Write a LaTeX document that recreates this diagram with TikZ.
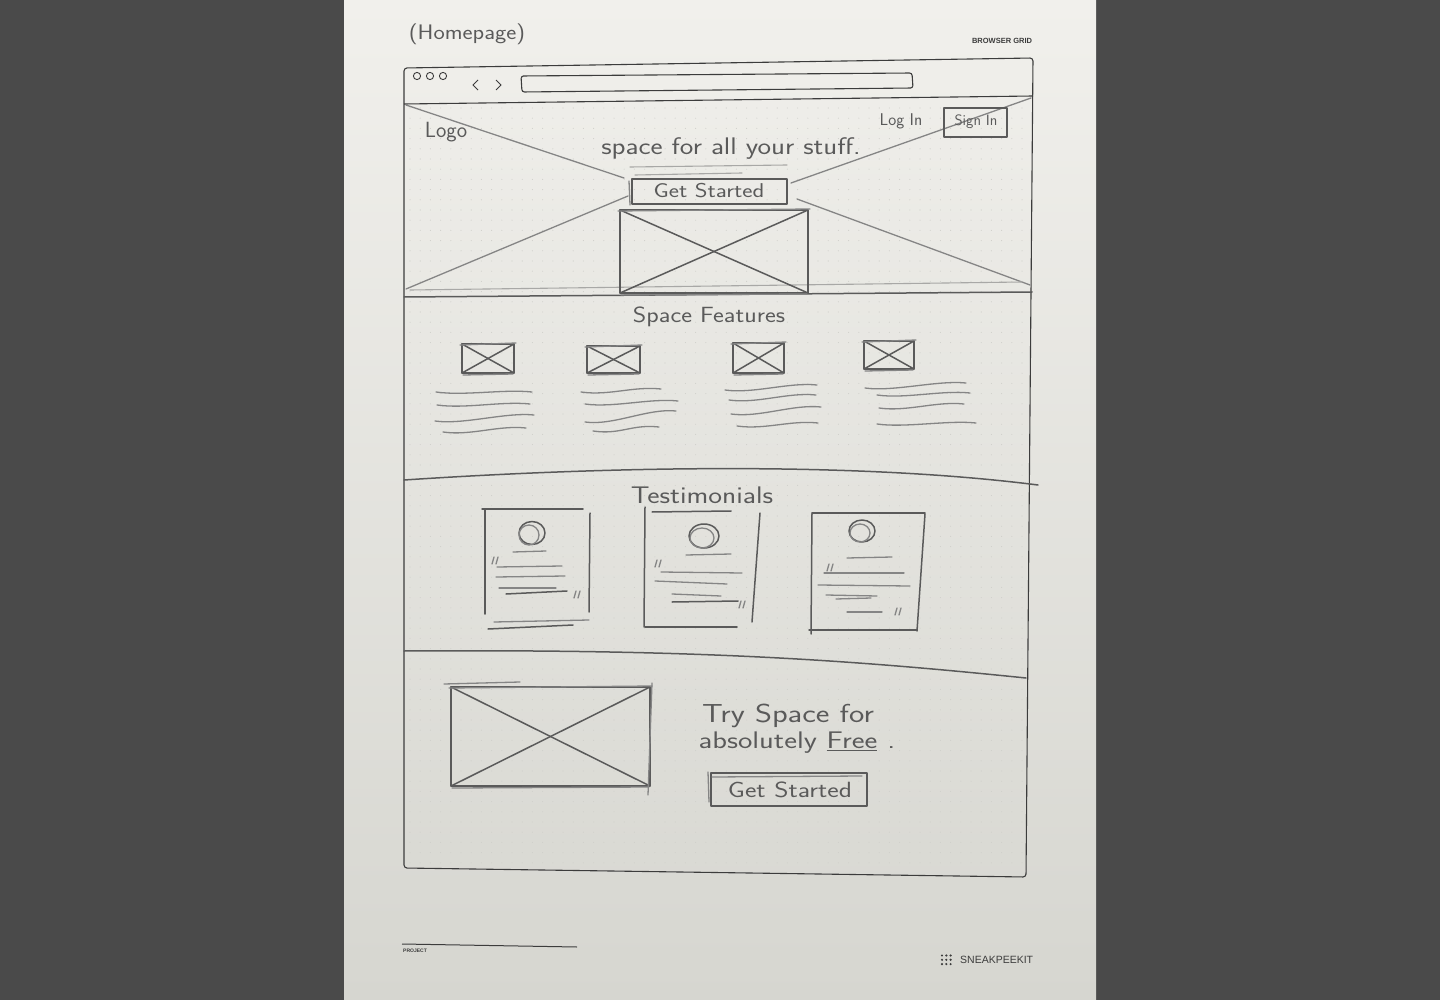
\documentclass[tikz,border=0pt]{standalone}
\usepackage{fontspec}
\newfontfamily\printfont{Liberation Sans}
\definecolor{desk}{HTML}{4A4A4A}
\definecolor{paperTop}{HTML}{F1F0EC}
\definecolor{paperBot}{HTML}{D6D6D0}
\definecolor{pencil}{HTML}{5A5A5A}
\definecolor{pencilLight}{HTML}{858585}
\definecolor{pencilFaint}{HTML}{A8A8A6}
\definecolor{ink}{HTML}{3C3C3C}
\definecolor{gridDot}{HTML}{D0D0CB}

% image placeholder: rectangle with both diagonals, plus a loose overstroke
\newcommand\sketchimg[4]{%
  \draw[pen] (#1,#2) rectangle (#3,#4);
  \draw[pen] (#1,#2) -- (#3,#4);
  \draw[pen] (#1,#4) -- (#3,#2);
  \draw[softpen] (#1-2,#2+1) -- (#3+2,#2-1);
  \draw[softpen] (#1+1,#4+2) -- (#3-1,#4+1);
}
% wavy pencil line standing for body text
\newcommand\wavy[4]{%
  \draw[softpen] (#1,#2) .. controls +(28,4) and +(-28,-3) .. (#3,#4);
}
% short closing/opening quote marks
\newcommand\quotes[2]{%
  \draw[softpen] (#1,#2) -- (#1-2,#2+7);
  \draw[softpen] (#1+4,#2) -- (#1+2,#2+7);
}
% loose handwriting: widen a line of text
\newcommand\loose[2]{\scalebox{#1}[1]{#2}}

\begin{document}
\begin{tikzpicture}[x=1pt,y=-1pt,
  pen/.style={draw=pencil, line width=1.5pt, line cap=round, line join=round},
  softpen/.style={draw=pencilLight, line width=1.3pt, line cap=round},
  faintpen/.style={draw=pencilFaint, line width=1.1pt, line cap=round},
  frame/.style={draw=ink, line width=1.1pt, line join=round},
  hand/.style={font=\sffamily\fontsize{#1}{#1}\selectfont, text=pencil, inner sep=0pt},
  printed/.style={font=\printfont\bfseries\fontsize{#1}{#1}\selectfont, text=ink, inner sep=0pt},
]
\useasboundingbox (0,0) rectangle (1440,1000);

% desk and sheet of paper
\fill[desk] (0,0) rectangle (1440,1000);
\shade[top color=paperTop, bottom color=paperBot] (344,0) rectangle (1096,1000);

% dot grid of the browser page
\foreach \i in {0,...,60} {
  \foreach \j in {0,...,74} {
    \fill[gridDot] (410+\i*10.2,108+\j*10.2) circle (0.55);
  }
}

% printed header
\node[hand=21] (title) at (467,34) {\loose{1.14}{(Homepage)}};
\node[printed=7.5] (gridlabel) at (1002,41) {BROWSER GRID};

% printed browser frame
\draw[frame, rounded corners=3pt] (404,68) -- (1033,58) -- (1026,877) -- (404,868) -- cycle;
\draw[frame] (404,104) -- (1033,96);
\foreach \k in {417,430,443} {
  \draw[ink, line width=0.9pt] (\k,76) circle (3.6);
}
\draw[ink, line width=0.9pt] (478,80) -- (473,85) -- (478,90);
\draw[ink, line width=0.9pt] (496,80) -- (501,85) -- (496,90);
\draw[frame, rounded corners=2.5pt] (521,76) -- (912,73) -- (913,88) -- (522,92) -- cycle;

% ---- hero section ----
\draw[softpen] (406,105) -- (624,178);
\draw[softpen] (1031,98) -- (791,183);
\draw[softpen] (406,289) -- (628,196);
\draw[softpen] (1030,285) -- (797,199);
\draw[pen] (404,297) -- (1032,292);
\draw[faintpen] (410,290) -- (1022,282);

\node[hand=22] (logo) at (446,132) {Logo};
\node[hand=17] (login) at (901,121) {Log In};
\draw[pen] (944,108) rectangle (1007,137);
\node[hand=15] (signin) at (976,122) {Sign In};

\node[hand=24] (headline) at (731,149) {\loose{1.2}{space for all your stuff.}};
\draw[faintpen] (630,167) -- (787,165);
\draw[faintpen] (635,175) -- (742,173);

\draw[pen] (632,179) rectangle (787,204);
\draw[softpen] (629,181) -- (630,205);
\node[hand=20] (heroBtn) at (709,191) {\loose{1.22}{Get Started}};

\sketchimg{620}{210}{808}{293}

% ---- features section ----
\node[hand=22] (features) at (709,317) {\loose{1.17}{Space Features}};

\sketchimg{462}{344}{514}{373}
\sketchimg{587}{346}{640}{373}
\sketchimg{733}{343}{784}{373}
\sketchimg{864}{341}{914}{369}

\wavy{436}{392}{532}{392}
\wavy{437}{405}{530}{404}
\wavy{435}{421}{534}{415}
\wavy{443}{432}{526}{428}

\wavy{581}{392}{661}{389}
\wavy{585}{404}{678}{401}
\wavy{585}{422}{676}{411}
\wavy{593}{431}{659}{427}

\wavy{725}{390}{817}{385}
\wavy{729}{400}{816}{395}
\wavy{731}{414}{821}{407}
\wavy{737}{426}{818}{423}

\wavy{865}{388}{966}{383}
\wavy{877}{395}{970}{393}
\wavy{879}{408}{964}{404}
\wavy{877}{424}{976}{423}

\draw[pen] (404,480) .. controls (600,467) and (850,461) .. (1038,485);

% ---- testimonials section ----
\node[hand=24] (testimonials) at (702,495) {\loose{1.22}{Testimonials}};

% card one
\draw[pen] (485,510) -- (485,614);
\draw[pen] (482,509) -- (583,509);
\draw[pen] (590,513) -- (589,612);
\draw[pen] (488,629) -- (573,625);
\draw[softpen] (494,622) -- (589,620);
\draw[pen] (532,533) ellipse (13 and 11.5);
\draw[softpen] (529,535) ellipse (10 and 10);
\draw[softpen] (513,552) -- (546,551);
\quotes{494}{557}
\draw[softpen] (497,567) -- (562,566);
\draw[softpen] (496,577) -- (565,576);
\draw[softpen] (499,588) -- (556,588);
\draw[pen] (506,594) -- (567,591);
\quotes{576}{591}

% card two
\draw[pen] (645,507) -- (644,627);
\draw[pen] (652,512) -- (731,511);
\draw[pen] (760,513) -- (752,622);
\draw[pen] (645,627) -- (737,627);
\draw[pen] (704,536) ellipse (15 and 12);
\draw[softpen] (702,538) ellipse (12 and 10);
\draw[softpen] (686,555) -- (731,554);
\quotes{657}{560}
\draw[softpen] (661,572) -- (742,573);
\draw[softpen] (655,581) -- (727,584);
\draw[softpen] (672,594) -- (721,596);
\draw[pen] (672,602) -- (738,601);
\quotes{741}{601}

% card three
\draw[pen] (812,513) -- (811,634);
\draw[pen] (812,513) -- (925,513);
\draw[pen] (925,514) -- (917,631);
\draw[pen] (809,630) -- (917,630);
\draw[pen] (862,531) ellipse (13 and 11);
\draw[softpen] (860,533) ellipse (10 and 9);
\draw[softpen] (847,558) -- (892,557);
\quotes{829}{564}
\draw[softpen] (824,573) -- (904,573);
\draw[softpen] (818,585) -- (910,586);
\draw[softpen] (826,595) -- (877,596);
\draw[softpen] (836,599) -- (871,598);
\draw[softpen] (847,612) -- (882,612);
\quotes{897}{608}

\draw[pen] (404,651) .. controls (700,649) and (850,660) .. (1026,678);

% ---- call to action section ----
\sketchimg{451}{687}{650}{786}
\draw[softpen] (444,684) -- (520,682);
\draw[softpen] (652,683) -- (648,795);

\node[hand=26] (cta1) at (788,716) {\loose{1.25}{Try Space for}};
\node[hand=24] (cta2) at (797,743) {\loose{1.27}{absolutely \underline{Free}\,\,.}};

\draw[pen] (711,773) rectangle (867,806);
\draw[softpen] (712,777) -- (862,776);
\draw[softpen] (708,772) -- (709,802);
\node[hand=22] (ctaBtn) at (790,790) {\loose{1.24}{Get Started}};

% printed footer
\draw[ink, line width=1pt] (402,944) -- (577,947);
\node[printed=5, anchor=west] (project) at (403,951) {PROJECT};
\foreach \a in {0,1,2} {
  \foreach \b in {0,1,2} {
    \fill[ink] (942+\a*4.3,955.5+\b*4.3) circle (1.2);
  }
}
\node[font=\printfont\fontsize{10.5}{10.5}\selectfont, text=ink, inner sep=0pt, anchor=west] (brand) at (960,960) {SNEAKPEEKIT};
\end{tikzpicture}
\end{document}
